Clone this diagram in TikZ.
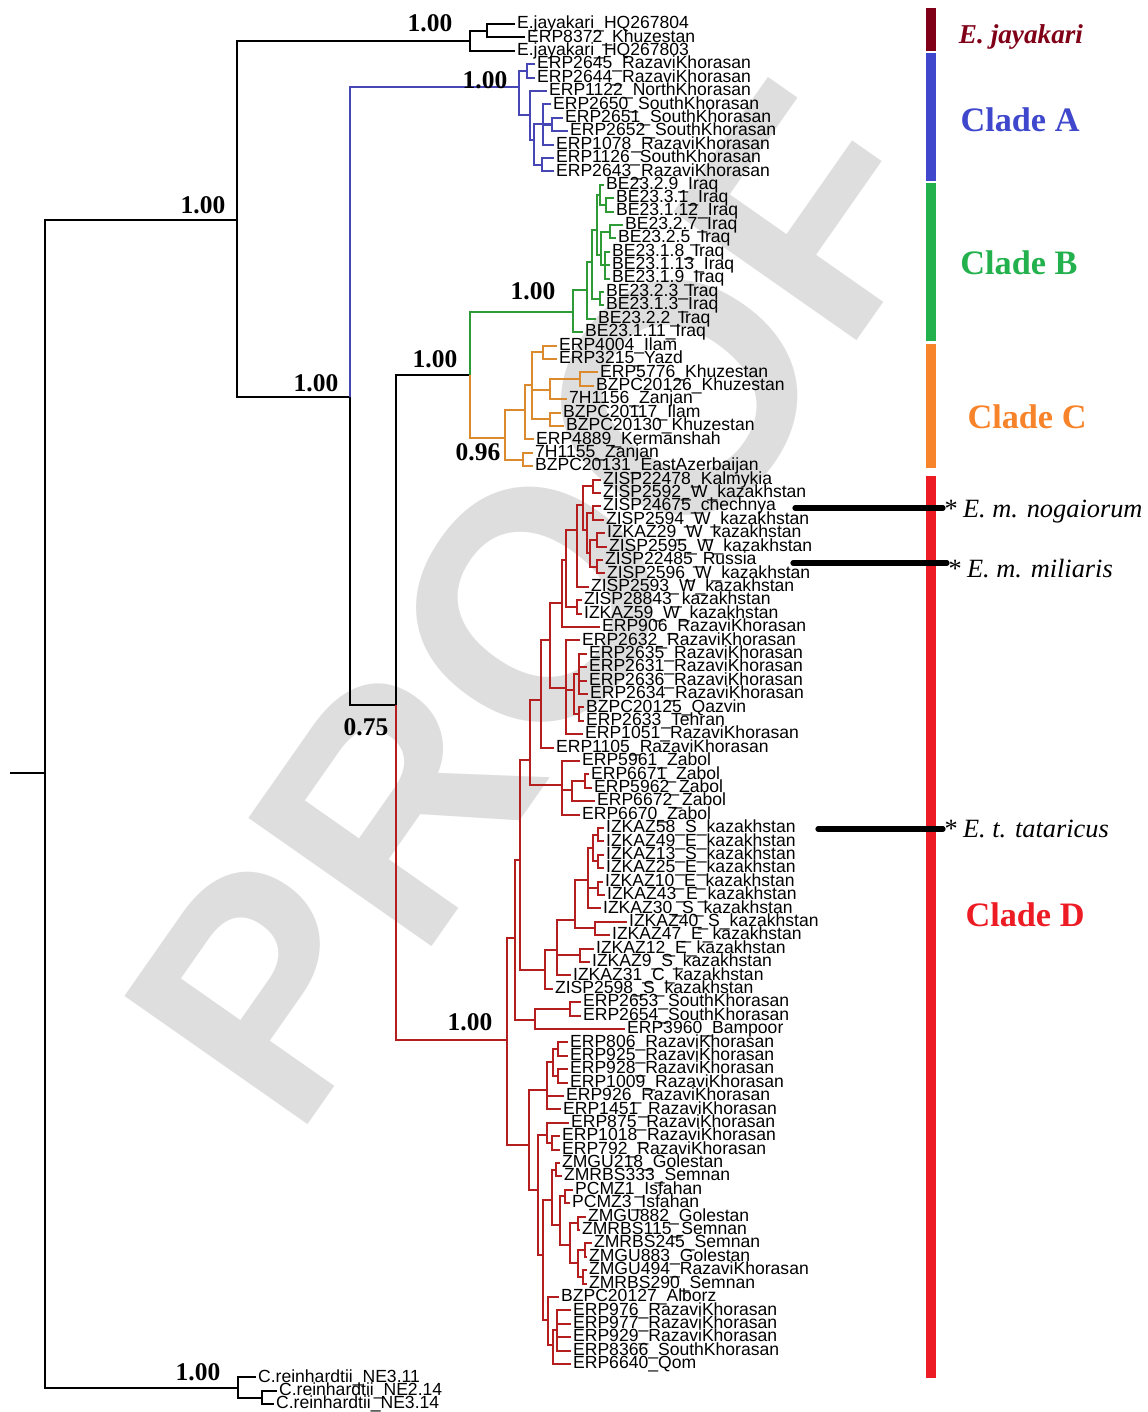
\documentclass[tikz,border=0pt]{standalone}
\usepackage{fontspec}
\setmainfont{Liberation Sans}
\newfontfamily\timesfont{Liberation Serif}
\usepackage{tikz}
\usetikzlibrary{positioning}
\definecolor{cladeA}{HTML}{4646B4}
\definecolor{cladeB}{HTML}{2E9B36}
\definecolor{cladeC}{HTML}{DB8A2E}
\definecolor{cladeD}{HTML}{B41E1E}
\definecolor{barJ}{HTML}{800018}
\definecolor{barA}{HTML}{3F48CC}
\definecolor{barB}{HTML}{22B14C}
\definecolor{barC}{HTML}{F7832A}
\definecolor{barD}{HTML}{ED1C24}
\tikzset{
  tip/.style={anchor=west, inner sep=1pt, font=\fontsize{10}{10}\selectfont},
  supp/.style={inner sep=0pt, font=\timesfont\bfseries\fontsize{14.5}{15}\selectfont},
  cladelab/.style={inner sep=0pt, font=\timesfont\bfseries\fontsize{19.5}{20}\selectfont},
  ssp/.style={anchor=west, inner sep=0pt, font=\timesfont\itshape\fontsize{15}{15}\selectfont},
  branch/.style={line width=1.2pt},
  marker/.style={line width=3pt, line cap=round},
}

\begin{document}
\begin{tikzpicture}[x=0.02cm, y=-0.02cm]
    \useasboundingbox (0,0) rectangle (1148,1412);
    % watermark
    \node[rotate=55, text=black!13, font=\bfseries\fontsize{185}{185}\selectfont] (proof) at (535,605) {PROOF};

    % clade bars
    \fill[barJ] (926,8) rectangle (936,51);
    \fill[barA] (926,53) rectangle (936,181);
    \fill[barB] (926,183) rectangle (936,341);
    \fill[barC] (926,344) rectangle (936,468);
    \fill[barD] (926,476) rectangle (936,1378);

    % tips
    \foreach \i/\x/\t in {1/515/E.jayakari\_HQ267804, 2/525/ERP8372\_Khuzestan, 3/515/E.jayakari\_HQ267803,
      4/535/ERP2645\_RazaviKhorasan, 5/535/ERP2644\_RazaviKhorasan, 6/547/ERP1122\_NorthKhorasan,
      7/551/ERP2650\_SouthKhorasan, 8/563/ERP2651\_SouthKhorasan, 9/568/ERP2652\_SouthKhorasan,
      10/554/ERP1078\_RazaviKhorasan, 11/554/ERP1126\_SouthKhorasan, 12/554/ERP2643\_RazaviKhorasan,
      13/604/BE23.2.9\_Iraq, 14/614/BE23.3.1\_Iraq, 15/614/BE23.1.12\_Iraq, 16/623/BE23.2.7\_Iraq,
      17/616/BE23.2.5\_Iraq, 18/610/BE23.1.8\_Iraq, 19/610/BE23.1.13\_Iraq, 20/610/BE23.1.9\_Iraq,
      21/604/BE23.2.3\_Iraq, 22/604/BE23.1.3\_Iraq, 23/596/BE23.2.2\_Iraq, 24/583/BE23.1.11\_Iraq,
      25/557/ERP4004\_Ilam, 26/557/ERP3215\_Yazd, 27/598/ERP5776\_Khuzestan, 28/594/BZPC20126\_Khuzestan,
      29/567/7H1156\_Zanjan, 30/561/BZPC20117\_Ilam, 31/564/BZPC20130\_Khuzestan, 32/534/ERP4889\_Kermanshah,
      33/533/7H1155\_Zanjan, 34/533/BZPC20131\_EastAzerbaijan,
      35/601/ZISP22478\_Kalmykia, 36/601/ZISP2592\_W\_kazakhstan, 37/601/ZISP24675\_chechnya,
      38/604/ZISP2594\_W\_kazakhstan, 39/605/IZKAZ29\_W\_kazakhstan, 40/607/ZISP2595\_W\_kazakhstan,
      41/603/ZISP22485\_Russia, 42/605/ZISP2596\_W\_kazakhstan, 43/589/ZISP2593\_W\_kazakhstan,
      44/582/ZISP28843\_kazakhstan, 45/582/IZKAZ59\_W\_kazakhstan, 46/600/ERP906\_RazaviKhorasan,
      47/580/ERP2632\_RazaviKhorasan, 48/587/ERP2635\_RazaviKhorasan, 49/587/ERP2631\_RazaviKhorasan,
      50/587/ERP2636\_RazaviKhorasan, 51/588/ERP2634\_RazaviKhorasan, 52/584/BZPC20125\_Qazvin,
      53/584/ERP2633\_Tehran, 54/583/ERP1051\_RazaviKhorasan, 55/554/ERP1105\_RazaviKhorasan,
      56/580/ERP5961\_Zabol, 57/589/ERP6671\_Zabol, 58/592/ERP5962\_Zabol, 59/595/ERP6672\_Zabol,
      60/580/ERP6670\_Zabol, 61/604/IZKAZ58\_S\_kazakhstan, 62/604/IZKAZ49\_E\_kazakhstan,
      63/604/IZKAZ13\_S\_kazakhstan, 64/604/IZKAZ25\_E\_kazakhstan, 65/603/IZKAZ10\_E\_kazakhstan,
      66/605/IZKAZ43\_E\_kazakhstan, 67/601/IZKAZ30\_S\_kazakhstan, 68/627/IZKAZ40\_S\_kazakhstan,
      69/610/IZKAZ47\_E\_kazakhstan, 70/594/IZKAZ12\_E\_kazakhstan, 71/590/IZKAZ9\_S\_kazakhstan,
      72/571/IZKAZ31\_C\_kazakhstan, 73/553/ZISP2598\_S\_kazakhstan, 74/581/ERP2653\_SouthKhorasan,
      75/581/ERP2654\_SouthKhorasan, 76/625/ERP3960\_Bampoor, 77/568/ERP806\_RazaviKhorasan,
      78/568/ERP925\_RazaviKhorasan, 79/568/ERP928\_RazaviKhorasan, 80/568/ERP1009\_RazaviKhorasan,
      81/564/ERP926\_RazaviKhorasan, 82/561/ERP1451\_RazaviKhorasan, 83/569/ERP875\_RazaviKhorasan,
      84/560/ERP1018\_RazaviKhorasan, 85/560/ERP792\_RazaviKhorasan, 86/560/ZMGU218\_Golestan,
      87/562/ZMRBS333\_Semnan, 88/573/PCMZ1\_Isfahan, 89/570/PCMZ3\_Isfahan, 90/586/ZMGU882\_Golestan,
      91/580/ZMRBS115\_Semnan, 92/592/ZMRBS245\_Semnan, 93/587/ZMGU883\_Golestan,
      94/587/ZMGU494\_RazaviKhorasan, 95/587/ZMRBS290\_Semnan, 96/559/BZPC20127\_Alborz,
      97/571/ERP976\_RazaviKhorasan, 98/571/ERP977\_RazaviKhorasan, 99/571/ERP929\_RazaviKhorasan,
      100/571/ERP8366\_SouthKhorasan, 101/571/ERP6640\_Qom,
      102/256/C.reinhardtii\_NE3.11, 103/277/C.reinhardtii\_NE2.14, 104/274/C.reinhardtii\_NE3.14}
      \node[tip] (t\i) at (\x,{24+(\i-1)*13.4}) {\t};

    % internal nodes
    \coordinate (root) at (10,773);
    \foreach \n/\x/\y in {n45/45/773, n237/237/220, nCR/238/1388, nCR1/262/1398, nJ/470/41, nJ1/487/31,
      n350/350/397, n396/396/705, nBC/470/375,
      nA0/519/87, nA1/527/71, nA2/530/115, nA3/534/140, nA4/543/124, nA6/552/124.5, nA5/542/165,
      nB0/573/312, nB1/587/290, nB2/592/262, nB3/597/230, nB4/600/299, nB5/600/195, nB7/606/205,
      nB6/601/255, nB8/610/232, nB9/605/265,
      nC0/505/438, nC1/525/410, nC2/523/460, nC3/532/385, nC4/543/352, nC5/550/390, nC6/550/419, nC7/580/379,
      nD/507/1040, nDa/515/938, nDb/529/1145, nDc/520/860, nDd/535/1020, nDe/570/1009, nDf/530/760,
      nW0/541/700, nW1/550/640, nW2/562/603, nW3/566/560, nW4/577/530, nW5/577/607, nW6/583/505,
      nW7/593/486, nW8/587/530, nW9/593/513, nW10/590/553, nW11/597/540, nW12/597/567,
      nR/566/688, nR1/574/690, nR2/579/674, nR3/579/714, nZ/562/785, nZ1/572/790, nZ2/585/781,
      nK0/545/970, nK1/557/950, nK2/575/920, nK3/588/880, nK4/595/928, nK5/580/955, nK6/593/848,
      nK7/598/888, nK8/598/835, nK9/598/861,
      nE1/547/1090, nE2/538/1190, nE3/553/1062, nE4/558/1049, nE5/558/1076, nE6/547/1135, nE7/543/1255,
      nE8/552/1143, nE9/552/1200, nE10/548/1320, nE11/556/1170, nE12/560/1225, nE13/565/1196,
      nE14/570/1245, nE15/578/1223, nE16/578/1263, nE17/585/1250, nE18/583/1277, nE19/553/1345, nE20/557/1330}
      \coordinate (\n) at (\x,\y);

    % branches
    \draw[branch] (root) -- (n45);
    \foreach \p/\c in {n45/n237, n45/nCR, nCR/t102, nCR/nCR1, nCR1/t103, nCR1/t104, n237/nJ, nJ/nJ1, nJ/t3,
      nJ1/t1, nJ1/t2, n237/n350, n350/n396, n396/nBC}
      \draw[branch] (\p) |- (\c);
    \foreach \p/\c in {n350/nA0, nA0/nA1, nA0/nA2, nA1/t4, nA1/t5, nA2/t6, nA2/nA3, nA3/nA4, nA3/nA5,
      nA4/t7, nA4/nA6, nA4/t10, nA6/t8, nA6/t9, nA5/t11, nA5/t12}
      \draw[branch, cladeA] (\p) |- (\c);
    \foreach \p/\c in {nBC/nB0, nB0/nB1, nB0/t24, nB1/nB2, nB1/t23, nB2/nB3, nB2/nB4, nB4/t21, nB4/t22,
      nB3/nB5, nB3/nB6, nB5/t13, nB5/nB7, nB7/t14, nB7/t15, nB6/nB8, nB6/nB9, nB8/t16, nB8/t17,
      nB9/t18, nB9/t19, nB9/t20}
      \draw[branch, cladeB] (\p) |- (\c);
    \foreach \p/\c in {nBC/nC0, nC0/nC1, nC0/nC2, nC2/t33, nC2/t34, nC1/nC3, nC1/t32, nC3/nC4, nC3/nC5,
      nC3/nC6, nC4/t25, nC4/t26, nC5/nC7, nC5/t29, nC7/t27, nC7/t28, nC6/t30, nC6/t31}
      \draw[branch, cladeC] (\p) |- (\c);
    \foreach \p/\c in {n396/nD, nD/nDa, nD/nDb, nDa/nDc, nDa/nDd, nDd/nDe, nDd/t76, nDe/t74, nDe/t75,
      nDc/nDf, nDc/nK0, nDf/nW0, nDf/nZ, nW0/nW1, nW0/t55, nW1/nW2, nW1/nR, nW2/nW3, nW2/t46,
      nW3/nW4, nW3/nW5, nW5/t44, nW5/t45, nW4/nW6, nW4/t43, nW6/nW7, nW6/nW8, nW7/t35, nW7/t36,
      nW8/nW9, nW8/nW10, nW9/t37, nW9/t38, nW10/nW11, nW10/nW12, nW11/t39, nW11/t40, nW12/t41, nW12/t42,
      nR/t47, nR/nR1, nR/t54, nR1/nR2, nR1/nR3, nR2/t48, nR2/t49, nR2/t50, nR2/t51, nR3/t52, nR3/t53,
      nZ/t56, nZ/nZ1, nZ/t60, nZ1/nZ2, nZ1/t59, nZ2/t57, nZ2/t58,
      nK0/nK1, nK0/t73, nK1/nK2, nK1/nK5, nK1/t72, nK2/nK3, nK2/nK4, nK3/nK6, nK3/nK7, nK3/t67,
      nK6/nK8, nK6/nK9, nK8/t61, nK8/t62, nK9/t63, nK9/t64, nK7/t65, nK7/t66, nK4/t68, nK4/t69,
      nK5/t70, nK5/t71,
      nDb/nE1, nDb/nE2, nE1/nE3, nE1/t81, nE1/t82, nE3/nE4, nE3/nE5, nE4/t77, nE4/t78, nE5/t79, nE5/t80,
      nE2/nE6, nE2/nE7, nE6/t83, nE6/nE8, nE8/t84, nE8/t85, nE7/nE9, nE7/nE10, nE9/nE11, nE9/nE12,
      nE11/t86, nE11/t87, nE12/nE13, nE12/nE14, nE13/t88, nE13/t89, nE14/nE15, nE14/nE16,
      nE15/t90, nE15/t91, nE16/nE17, nE16/nE18, nE17/t92, nE17/t93, nE18/t94, nE18/t95,
      nE10/t96, nE10/nE19, nE19/nE20, nE19/t101, nE20/t97, nE20/t98, nE20/t99, nE20/t100}
      \draw[branch, cladeD] (\p) |- (\c);

    % posterior probabilities
    \node[supp] (ppJ) at (430,23) {1.00};
    \node[supp] (ppA) at (485,80) {1.00};
    \node[supp] (ppIn) at (203,205) {1.00};
    \node[supp] (ppEx) at (316,383) {1.00};
    \node[supp] (ppB) at (533,291) {1.00};
    \node[supp] (ppBC) at (435,359) {1.00};
    \node[supp] (ppC) at (478,452) {0.96};
    \node[supp] (ppAD) at (366,727) {0.75};
    \node[supp] (ppD) at (470,1022) {1.00};
    \node[supp] (ppCR) at (198,1372) {1.00};

    % clade names
    \node[cladelab, font=\timesfont\bfseries\itshape\fontsize{15.5}{16}\selectfont, text=barJ] (labJ) at (1021,37) {E. jayakari};
    \node[cladelab, text=barA] (labA) at (1020,120) {Clade A};
    \node[cladelab, text=barB] (labB) at (1019,263) {Clade B};
    \node[cladelab, text=barC] (labC) at (1027,417) {Clade C};
    \node[cladelab, text=barD] (labD) at (1025,915) {Clade D};

    % subspecies marks
    \node[ssp] (nog) at (943,512) {* E. m. nogaiorum};
    \node[ssp] (mil) at (947,569) {* E. m. miliaris};
    \node[ssp] (tat) at (943,829) {* E. t. tataricus};
    \coordinate (nogS) at (795,508);
    \coordinate (milS) at (793,563);
    \coordinate (tatS) at (818,829);
    \draw[marker] (nogS) -- (nogS -| nog.west);
    \draw[marker] (milS) -- (milS -| mil.west);
    \draw[marker] (tatS) -- (tatS -| tat.west);
  \end{tikzpicture}
\end{document}
